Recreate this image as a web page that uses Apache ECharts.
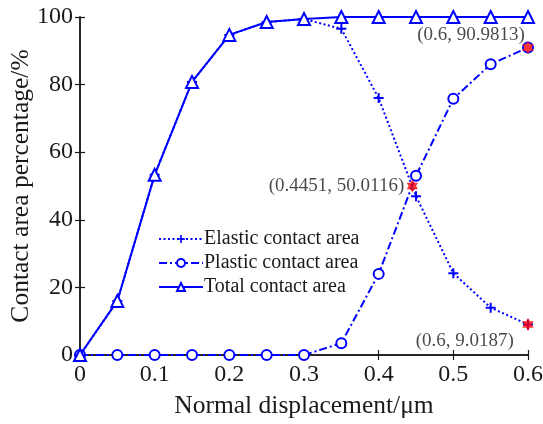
<!DOCTYPE html>
<html>
<head>
<meta charset="utf-8">
<script src="https://cdn.jsdelivr.net/npm/echarts@6/dist/echarts.min.js"></script>
<style>
  html, body { margin: 0; padding: 0; background: #fff; }
  #chart { width: 543px; height: 424px; }
</style>
</head>
<body>
<div id="chart"></div>
<script>
// Normal displacement (μm)
const displacement = [0, 0.05, 0.1, 0.15, 0.2, 0.25, 0.3, 0.35, 0.4, 0.45, 0.5, 0.55, 0.6];
// Contact area percentages (%)
const elasticArea = [0, 16, 53.3, 80.8, 94.7, 98.5, 99.4, 96.5, 76, 47, 24.2, 14, 9.0187];
const plasticArea = [0, 0, 0, 0, 0, 0, 0, 3.5, 24, 53, 75.8, 86, 90.9813];
const totalArea = [0, 16, 53.3, 80.8, 94.7, 98.5, 99.4, 100, 100, 100, 100, 100, 100];
// Highlighted points: crossover and end values
const markX = [0.4451, 0.6, 0.6];
const markY = [50.0116, 90.9813, 9.0187];
const xTicks = [0, 0.1, 0.2, 0.3, 0.4, 0.5, 0.6];
const yTicks = [0, 20, 40, 60, 80, 100];

const FONT = "'Liberation Serif', 'Times New Roman', serif";
const INK = '#1a1a1a';
const BLUE = '#0000ff';

const pairs = (ys) => displacement.map((x, i) => [x, ys[i]]);

const plusSymbol = 'path://M-1,-0.2H1V0.2H-1Z M-0.2,-1H0.2V1H-0.2Z';
const hexagram = 'path://M0,-1L0.289,-0.5L0.866,-0.5L0.577,0L0.866,0.5L0.289,0.5L0,1L-0.289,0.5L-0.866,0.5L-0.577,0L-0.866,-0.5L-0.289,-0.5Z';

// label placement per highlighted point (relative to marker box)
const labelPlace = [
  { position: [-2.5, 6.5] },
  { position: [2.5, -5.5] },
  { position: [-8.5, 22.5] }
];

const axisCommon = {
  axisLine: { show: true, lineStyle: { color: INK, width: 1.5 } },
  axisTick: { show: true, inside: true, length: 5, lineStyle: { color: INK, width: 1.2 } },
  splitLine: { show: false }
};

const chart = echarts.init(document.getElementById('chart'), null, { renderer: 'canvas' });

chart.setOption({
  backgroundColor: '#ffffff',
  animation: false,
  textStyle: { fontFamily: FONT },
  grid: { left: 80, right: 15, top: 17, bottom: 69, containLabel: false, outerBoundsMode: 'none' },
  legend: {
    orient: 'vertical',
    left: 153,
    top: 223,
    itemWidth: 44,
    itemHeight: 10,
    itemGap: 2,
    textStyle: { fontFamily: FONT, fontSize: 20, color: INK, lineHeight: 22, padding: [0, 0, 0, -4] },
    data: ['Elastic contact area', 'Plastic contact area', 'Total contact area']
  },
  xAxis: [
    Object.assign({
      type: 'value', min: xTicks[0], max: xTicks[xTicks.length - 1], interval: 0.1,
      name: 'Normal displacement/μm', nameLocation: 'middle', nameGap: 38, nameMoveOverlap: false,
      nameTextStyle: { fontFamily: FONT, fontSize: 25.5, color: INK },
      axisLabel: { fontFamily: FONT, fontSize: 24, color: INK, margin: 8 }
    }, axisCommon),
    Object.assign({
      type: 'value', position: 'top', min: xTicks[0], max: xTicks[xTicks.length - 1], interval: 0.1,
      axisLabel: { show: false }
    }, axisCommon)
  ],
  yAxis: [
    Object.assign({
      type: 'value', min: yTicks[0], max: yTicks[yTicks.length - 1], interval: 20,
      name: 'Contact area percentage/%', nameLocation: 'middle', nameGap: 46, nameMoveOverlap: false,
      nameTextStyle: { fontFamily: FONT, fontSize: 25.5, color: INK },
      axisLabel: { fontFamily: FONT, fontSize: 24, color: INK, margin: 7 }
    }, axisCommon),
    Object.assign({
      type: 'value', position: 'right', min: yTicks[0], max: yTicks[yTicks.length - 1], interval: 20,
      axisLabel: { show: false }
    }, axisCommon)
  ],
  series: [
    {
      name: 'Elastic contact area', type: 'line', data: pairs(elasticArea),
      symbol: plusSymbol, symbolSize: 10,
      lineStyle: { color: BLUE, width: 2, type: [2, 2.5] },
      itemStyle: { color: BLUE },
      z: 2
    },
    {
      name: 'Plastic contact area', type: 'line', data: pairs(plasticArea),
      symbol: 'emptyCircle', symbolSize: 10,
      lineStyle: { color: BLUE, width: 2, type: [8, 3, 2, 3] },
      itemStyle: { color: BLUE, borderWidth: 2 },
      z: 3
    },
    {
      name: 'Total contact area', type: 'line', data: pairs(totalArea),
      symbol: 'emptyTriangle', symbolSize: 12,
      lineStyle: { color: BLUE, width: 2 },
      itemStyle: { color: BLUE, borderWidth: 2 },
      z: 4
    },
    {
      name: 'points', type: 'scatter',
      data: markX.map((x, i) => ({
        value: [x, markY[i]],
        label: labelPlace[i]
      })),
      symbol: hexagram, symbolSize: 13, symbolKeepAspect: true,
      itemStyle: { color: '#ff0000' },
      label: {
        show: true, fontFamily: FONT, fontSize: 19, color: INK,
        align: 'right', verticalAlign: 'middle',
        formatter: (p) => '(' + p.value[0] + ', ' + p.value[1] + ')'
      },
      z: 10
    }
  ]
});
</script>
</body>
</html>
